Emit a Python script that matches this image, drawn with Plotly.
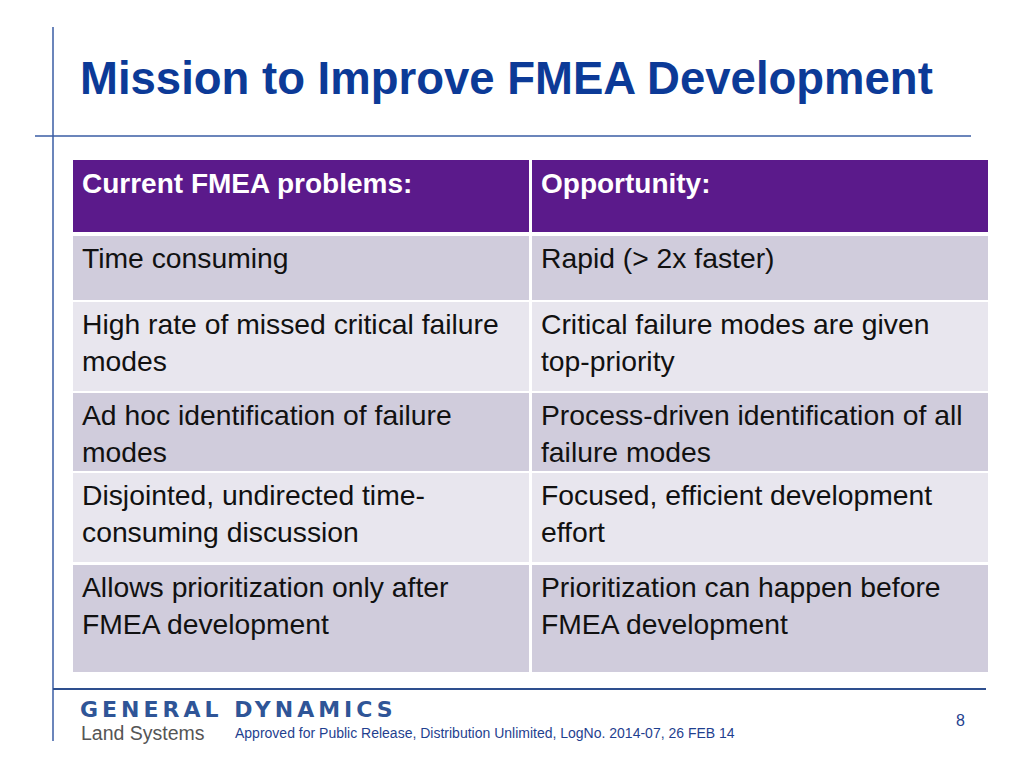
import plotly.graph_objects as go

# Slide content
title = "Mission to Improve FMEA Development"
headers = ["Current FMEA problems:", "Opportunity:"]
problems = [
    "Time consuming",
    "High rate of missed critical failure<br>modes",
    "Ad hoc identification of failure<br>modes",
    "Disjointed, undirected time-<br>consuming discussion",
    "Allows prioritization only after<br>FMEA development",
]
opportunities = [
    "Rapid (> 2x faster)",
    "Critical failure modes are given<br>top-priority",
    "Process-driven identification of all<br>failure modes",
    "Focused, efficient development<br>effort",
    "Prioritization can happen before<br>FMEA development",
]
logo_top = "GENERAL DYNAMICS"
logo_bottom = "Land Systems"
footer_note = "Approved for Public Release, Distribution Unlimited, LogNo. 2014-07, 26 FEB 14"
page_no = "8"

# Layout (pixel coordinates on a 1024x768 slide)
W, H = 1024, 768
col_x = [(73, 529), (532, 988)]
row_y = [(160, 232), (236, 300), (302, 391), (393, 471), (473, 562), (565, 672)]
row_fill = ["#5B1A8B", "#D0CCDC", "#E8E6EE", "#D0CCDC", "#E8E6EE", "#D0CCDC"]
BLUE = "#0C3A97"
LINE = "#3A5CA4"
FONT = "Liberation Sans, Arial, sans-serif"

fig = go.Figure()
# invisible trace so the axes exist
fig.add_trace(go.Scatter(x=[0, W], y=[0, H], mode="markers",
                         marker=dict(opacity=0), hoverinfo="skip", showlegend=False))

shapes = []
annotations = []

# table cells
for r, (y0, y1) in enumerate(row_y):
    for c, (x0, x1) in enumerate(col_x):
        shapes.append(dict(type="rect", xref="x", yref="y", x0=x0, x1=x1, y0=y0, y1=y1,
                           fillcolor=row_fill[r], line=dict(width=0), layer="below"))
        if r == 0:
            txt = headers[c]
            annotations.append(dict(x=x0 + 7, y=y0 + 6, xref="x", yref="y", text="<b>%s</b>" % txt,
                                    showarrow=False, xanchor="left", yanchor="top", align="left",
                                    font=dict(family=FONT, size=28, color="white")))
        else:
            txt = (problems if c == 0 else opportunities)[r - 1]
            annotations.append(dict(x=x0 + 7, y=y0 + 4, xref="x", yref="y", text=txt,
                                    showarrow=False, xanchor="left", yanchor="top", align="left",
                                    font=dict(family=FONT, size=28.3, color="#111111")))

# frame lines
shapes += [
    dict(type="line", xref="x", yref="y", x0=53, x1=53, y0=27, y1=741, line=dict(color=LINE, width=1.5)),
    dict(type="line", xref="x", yref="y", x0=35, x1=971, y0=136, y1=136, line=dict(color=LINE, width=1.5)),
    dict(type="line", xref="x", yref="y", x0=53, x1=986, y0=689, y1=689, line=dict(color="#2E4F8E", width=2)),
]

# title
annotations.append(dict(x=78, y=78, xref="x", yref="y", text="<b>%s</b>" % title, showarrow=False,
                        xanchor="left", yanchor="middle",
                        font=dict(family=FONT, size=45.5, color=BLUE)))

# footer
annotations += [
    dict(x=78, y=709, xref="x", yref="y",
         text='<span style="letter-spacing:4px">%s</span>' % logo_top,
         showarrow=False, xanchor="left", yanchor="middle",
         font=dict(family="DejaVu Sans", size=22, weight="bold", color="#2F5597")),
    dict(x=79, y=733, xref="x", yref="y", text=logo_bottom, showarrow=False, xanchor="left",
         yanchor="middle", font=dict(family=FONT, size=19.5, color="#555555")),
    dict(x=233, y=733, xref="x", yref="y", text=footer_note, showarrow=False, xanchor="left",
         yanchor="middle", font=dict(family=FONT, size=14, color="#1F3F8F")),
    dict(x=960, y=720, xref="x", yref="y", text=page_no, showarrow=False, xanchor="center",
         yanchor="middle", font=dict(family=FONT, size=16, color="#1F3F8F")),
]

fig.update_layout(
    width=W, height=H,
    margin=dict(l=0, r=0, t=0, b=0),
    paper_bgcolor="white", plot_bgcolor="white",
    shapes=shapes, annotations=annotations,
    showlegend=False,
)
fig.update_xaxes(range=[0, W], visible=False, fixedrange=True)
fig.update_yaxes(range=[H, 0], visible=False, fixedrange=True)

fig.write_html("out.html", config={"displayModeBar": False},
               post_script="document.body.style.margin='0';")
